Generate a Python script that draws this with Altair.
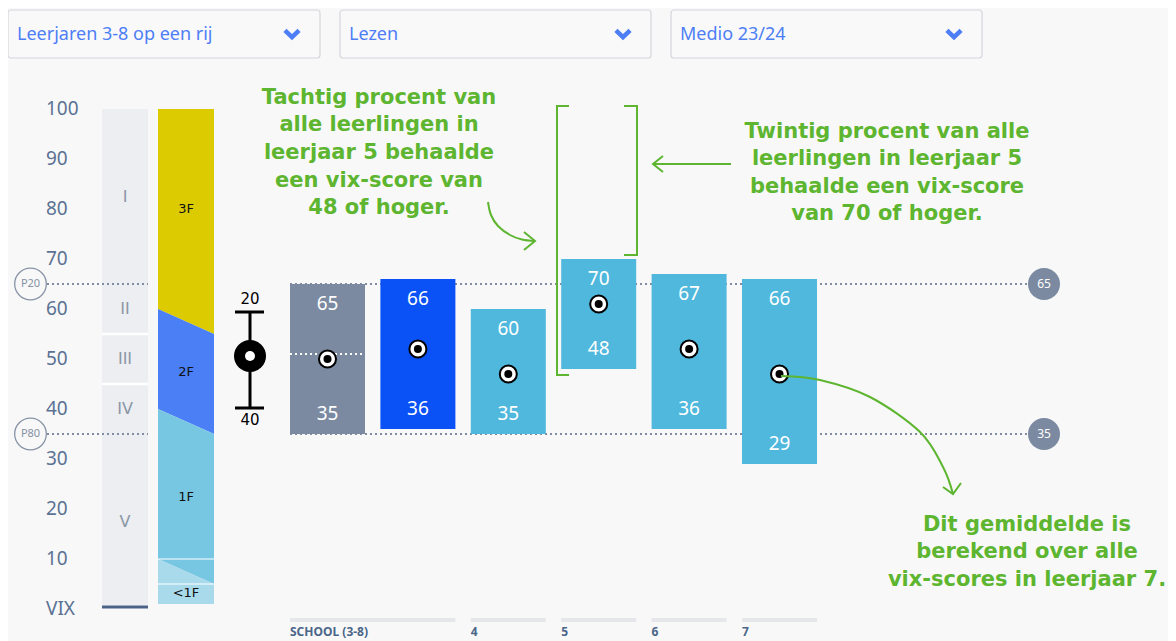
import altair as alt
import pandas as pd

# ---------------- data ----------------
categories = ["SCHOOL (3-8)", "3", "4", "5", "6", "7"]
p80_scores = [35, 36, 35, 48, 36, 29]      # lower edge of each bar
p20_scores = [65, 66, 60, 70, 67, 66]      # upper edge of each bar
mean_scores = [50, 52, 47, 61, 52, 47]
school_median = 51
bar_colors = ["#7b8aa0", "#0a52f5", "#4fb8dc", "#4fb8dc", "#4fb8dc", "#4fb8dc"]

group_labels = ["SCHOOL (3-8)", "4", "5", "6", "7"]
group_first = [0, 2, 3, 4, 5]
group_last = [1, 2, 3, 4, 5]

y_tick_values = [100, 90, 80, 70, 60, 50, 40, 30, 20, 10, 0]
y_tick_labels = ["100", "90", "80", "70", "60", "50", "40", "30", "20", "10", "VIX"]

ref_values = [65, 35]
ref_names = ["P20", "P80"]

levels = ["I", "II", "III", "IV", "V"]
level_mid = [82.5, 60, 50, 40, 17.5]
level_separators = [55, 45]

f_bands = ["3F", "2F", "1F", "<1F"]
f_top_left = [100, 60, 40, 10]
f_top_right = [100, 55, 35, 5]
f_bot_left = [60, 40, 10, 1]
f_bot_right = [55, 35, 5, 1]
f_label_y = [80, 47.5, 22.5, 3.2]
f_colors = ["#dccb00", "#4a7ff5", "#78c7e2", "#a8daec"]
f_lines = [10, 5]

legend_top_label = "20"
legend_bottom_label = "40"

dropdowns = ["Leerjaren 3-8 op een rij", "Lezen", "Medio 23/24"]

ann1 = ["Tachtig procent van", "alle leerlingen in", "leerjaar 5 behaalde",
        "een vix-score van", "48 of hoger."]
ann2 = ["Twintig procent van alle", "leerlingen in leerjaar 5",
        "behaalde een vix-score", "van 70 of hoger."]
ann3 = ["Dit gemiddelde is", "berekend over alle", "vix-scores in leerjaar 7."]

# ---------------- layout helpers ----------------
X0, STEP = 327.5, 90.4          # pixel centre of first bar, bar spacing
HALF = 37.5 / STEP


def px(p):
    return (p - X0) / STEP


def py(p):
    return (609 - p) / 5.0


XS = alt.Scale(domain=[px(8), px(1168)], nice=False, zero=False)
YS = alt.Scale(domain=[-6.4, 120.2], nice=False, zero=False)


def X(f):
    return alt.X(f, type="quantitative", scale=XS, axis=None)


def Y(f):
    return alt.Y(f, type="quantitative", scale=YS, axis=None, stack=None)


GREEN = "#5db530"
SLATE = "#5b7292"
GREYBLUE = "#7b8aa0"

layers = []

# ---------------- dropdowns ----------------
dd_left = [8, 340, 671]
dd_right = [320, 651, 982]
dd = pd.DataFrame({
    "t": dropdowns,
    "x1": [px(v) for v in dd_left],
    "x2": [px(v) for v in dd_right],
    "xt": [px(v + 9) for v in dd_left],
    "xc": [px(v - 28) for v in dd_right],
    "y1": py(10), "y2": py(58), "ym": py(35), "yc": py(34),
})
layers.append(alt.Chart(dd).mark_rect(fill="#f9f9fa", stroke="#d3d6db", strokeWidth=1.2,
                                      cornerRadius=3).encode(
    x=X("x1"), x2="x2", y=Y("y1"), y2="y2"))
layers.append(alt.Chart(dd).mark_text(align="left", baseline="middle", font="Noto Sans",
                                      fontSize=18, color="#4d7ef5").encode(
    x=X("xt"), y=Y("ym"), text="t:N"))
layers.append(alt.Chart(dd).mark_point(shape="M-1,-0.5L0,0.45L1,-0.5", filled=False,
                                       stroke="#4d7ef5", strokeWidth=4.5, size=200,
                                       opacity=1).encode(
    x=X("xc"), y=Y("yc")))

# ---------------- level column (I-V) ----------------
gc = pd.DataFrame({"x1": [px(102)], "x2": [px(148)], "y1": [100], "y2": [0.8]})
layers.append(alt.Chart(gc).mark_rect(fill="#eceef1").encode(
    x=X("x1"), x2="x2", y=Y("y1"), y2="y2"))
sep = pd.DataFrame({"y": level_separators, "x1": px(102), "x2": px(148)})
layers.append(alt.Chart(sep).mark_rule(color="white", strokeWidth=2.5).encode(
    x=X("x1"), x2="x2", y=Y("y")))
lv = pd.DataFrame({"t": levels, "y": level_mid, "x": px(125)})
layers.append(alt.Chart(lv).mark_text(font="DejaVu Sans", fontSize=16, color="#8b96a6",
                                      baseline="middle").encode(
    x=X("x"), y=Y("y"), text="t:N"))
base_line = pd.DataFrame({"x1": [px(102)], "x2": [px(148)], "y": [py(607)]})
layers.append(alt.Chart(base_line).mark_rule(color="#4a6285", strokeWidth=3).encode(
    x=X("x1"), x2="x2", y=Y("y")))

# ---------------- F column ----------------
rows = []
for b, c, tl, tr, bl, br in zip(f_bands, f_colors, f_top_left, f_top_right, f_bot_left, f_bot_right):
    rows.append({"band": b, "col": c, "x": px(158), "top": tl, "bot": bl})
    rows.append({"band": b, "col": c, "x": px(214), "top": tr, "bot": br})
fdf = pd.DataFrame(rows)
layers.append(alt.Chart(fdf).mark_area(opacity=1, interpolate="linear").encode(
    x=X("x"), y=Y("top"), y2="bot",
    color=alt.Color("col:N", scale=None),
    detail="band:N"))
fl = pd.DataFrame({"y": f_lines, "x1": px(158), "x2": px(214)})
layers.append(alt.Chart(fl).mark_rule(color="white", strokeWidth=1.2).encode(
    x=X("x1"), x2="x2", y=Y("y")))
flab = pd.DataFrame({"t": f_bands, "y": f_label_y, "x": px(186)})
layers.append(alt.Chart(flab).mark_text(font="DejaVu Sans", fontSize=13, color="#111111",
                                        baseline="middle").encode(
    x=X("x"), y=Y("y"), text="t:N"))

# ---------------- reference lines ----------------
refl = pd.DataFrame({
    "y": ref_values * 2,
    "x1": [px(47)] * 2 + [-HALF] * 2,
    "x2": [px(148)] * 2 + [px(1028)] * 2,
})
layers.append(alt.Chart(refl).mark_rule(color="#7f8ca2", strokeWidth=2,
                                        strokeDash=[2, 3]).encode(
    x=X("x1"), x2="x2", y=Y("y")))

# ---------------- bars ----------------
bars = pd.DataFrame({
    "cat": categories,
    "col": bar_colors,
    "idx": list(range(len(categories))),
    "lo": p80_scores, "hi": p20_scores, "mean": mean_scores,
})
bars["x1"] = bars["idx"] - HALF
bars["x2"] = bars["idx"] + HALF
bars["lo_t"] = bars["lo"].astype(str)
bars["hi_t"] = bars["hi"].astype(str)
layers.append(alt.Chart(bars).mark_rect().encode(
    x=X("x1"), x2="x2", y=Y("hi"), y2="lo",
    color=alt.Color("col:N", scale=None)))
med = bars.iloc[[0]].assign(m=school_median)
layers.append(alt.Chart(med).mark_rule(color="white", strokeWidth=2, strokeDash=[2, 3]).encode(
    x=X("x1"), x2="x2", y=Y("m")))
layers.append(alt.Chart(bars).mark_text(font="Noto Sans", fontSize=19, color="white",
                                        baseline="middle", dy=20).encode(
    x=X("idx"), y=Y("hi"), text="hi_t:N"))
layers.append(alt.Chart(bars).mark_text(font="Noto Sans", fontSize=19, color="white",
                                        baseline="middle", dy=-20).encode(
    x=X("idx"), y=Y("lo"), text="lo_t:N"))
layers.append(alt.Chart(bars).mark_point(shape="circle", filled=True, fill="white",
                                         stroke="black", strokeWidth=2, size=290,
                                         opacity=1).encode(
    x=X("idx"), y=Y("mean")))
layers.append(alt.Chart(bars).mark_point(shape="circle", filled=True, color="black",
                                         size=64, opacity=1).encode(
    x=X("idx"), y=Y("mean")))

# ---------------- reference badges ----------------
rb = pd.DataFrame({"y": ref_values, "t": [str(v) for v in ref_values], "n": ref_names,
                   "xr": px(1044), "xl": px(30.5)})
layers.append(alt.Chart(rb).mark_point(shape="circle", filled=True, color=GREYBLUE,
                                       size=1024, opacity=1).encode(
    x=X("xr"), y=Y("y")))
layers.append(alt.Chart(rb).mark_text(font="Noto Sans", fontSize=12, color="white",
                                      baseline="middle").encode(
    x=X("xr"), y=Y("y"), text="t:N"))
layers.append(alt.Chart(rb).mark_point(shape="circle", filled=True, fill="#f8f8f9",
                                       stroke="#8893a6", strokeWidth=1.3, size=1000,
                                       opacity=1).encode(
    x=X("xl"), y=Y("y")))
layers.append(alt.Chart(rb).mark_text(font="Noto Sans", fontSize=11, color="#8591a3",
                                      baseline="middle").encode(
    x=X("xl"), y=Y("y"), text="n:N"))

# ---------------- whisker legend ----------------
wl = pd.DataFrame({"x": [px(250)], "y1": [py(312)], "y2": [py(408)], "ym": [py(356)]})
layers.append(alt.Chart(wl).mark_rule(color="black", strokeWidth=3).encode(
    x=X("x"), y=Y("y1"), y2="y2"))
caps = pd.DataFrame({"y": [py(312), py(408)], "c1": px(235), "c2": px(264)})
layers.append(alt.Chart(caps).mark_rule(color="black", strokeWidth=3).encode(
    x=X("c1"), x2="c2", y=Y("y")))
layers.append(alt.Chart(wl).mark_point(shape="circle", filled=True, color="black",
                                       size=1024, opacity=1).encode(
    x=X("x"), y=Y("ym")))
layers.append(alt.Chart(wl).mark_point(shape="circle", filled=True, color="white",
                                       size=100, opacity=1).encode(
    x=X("x"), y=Y("ym")))
wlab = pd.DataFrame({"t": [legend_top_label, legend_bottom_label],
                     "y": [py(299), py(420)], "x": px(250)})
layers.append(alt.Chart(wlab).mark_text(font="DejaVu Sans", fontSize=15, color="black",
                                        baseline="middle").encode(
    x=X("x"), y=Y("y"), text="t:N"))

# ---------------- annotations ----------------
arows = []
for lines, cx, ys in [(ann1, 379, [98, 125, 153, 181, 208]),
                      (ann2, 887, [132, 159, 187, 214]),
                      (ann3, 1027, [525, 552, 580])]:
    for t, yy in zip(lines, ys):
        arows.append({"t": t, "x": px(cx), "y": py(yy)})
adf = pd.DataFrame(arows)
layers.append(alt.Chart(adf).mark_text(font="DejaVu Sans", fontWeight="bold", fontSize=21,
                                       color=GREEN, baseline="middle").encode(
    x=X("x"), y=Y("y"), text="t:N"))

# brackets and straight arrow pieces (linear polylines)
lin = []


def poly(name, pts):
    for i, (a, b) in enumerate(pts):
        lin.append({"seg": name, "o": i, "x": px(a), "y": py(b)})


poly("bl", [(569, 106), (557, 106), (557, 375), (569, 375)])
poly("br", [(624, 106), (637, 106), (637, 255), (624, 255)])
poly("a1", [(731, 164), (653, 164)])
poly("a1h", [(663, 156), (653, 164), (663, 172)])
poly("a2h", [(524, 232), (535, 241), (524, 250)])
poly("a3h", [(943, 487), (953, 494), (961, 483)])
ldf = pd.DataFrame(lin)
layers.append(alt.Chart(ldf).mark_line(color=GREEN, strokeWidth=2).encode(
    x=X("x"), y=Y("y"), order="o:Q", detail="seg:N"))

cur = []


def curve(name, pts):
    for i, (a, b) in enumerate(pts):
        cur.append({"seg": name, "o": i, "x": px(a), "y": py(b)})


curve("c2", [(488, 202), (491, 215), (498, 226), (510, 235), (522, 239.5), (535, 241)])
curve("c3", [(781, 376), (820, 380), (870, 397), (920, 432), (943, 467), (953, 494)])
cdf = pd.DataFrame(cur)
layers.append(alt.Chart(cdf).mark_line(color=GREEN, strokeWidth=2, interpolate="cardinal").encode(
    x=X("x"), y=Y("y"), order="o:Q", detail="seg:N"))

# ---------------- bottom category labels ----------------
grp = pd.DataFrame({
    "t": group_labels,
    "x1": [f - HALF for f in group_first],
    "x2": [l + HALF for l in group_last],
    "yl": py(620), "yt": py(631.5),
})
layers.append(alt.Chart(grp).mark_rule(color="#e5e7eb", strokeWidth=4).encode(
    x=X("x1"), x2="x2", y=Y("yl")))
layers.append(alt.Chart(grp).mark_text(font="Noto Sans", fontWeight="bold", fontSize=12,
                                       color="#4a6688", align="left", baseline="middle").encode(
    x=X("x1"), y=Y("yt"), text="t:N"))

# ---------------- y tick labels ----------------
yt = pd.DataFrame({"v": y_tick_values, "t": y_tick_labels, "x": px(46)})
layers.append(alt.Chart(yt).mark_text(font="Noto Sans", fontSize=19, color=SLATE,
                                      align="left", baseline="middle").encode(
    x=X("x"), y=Y("v"), text="t:N"))

chart = alt.layer(*layers).properties(
    width=1160, height=633, padding=0,
    autosize=alt.AutoSizeParams(type="none"),
    background="#f8f8f9",
).configure_view(stroke=None)

chart.save("out.html", embed_options={"renderer": "svg", "actions": False})
